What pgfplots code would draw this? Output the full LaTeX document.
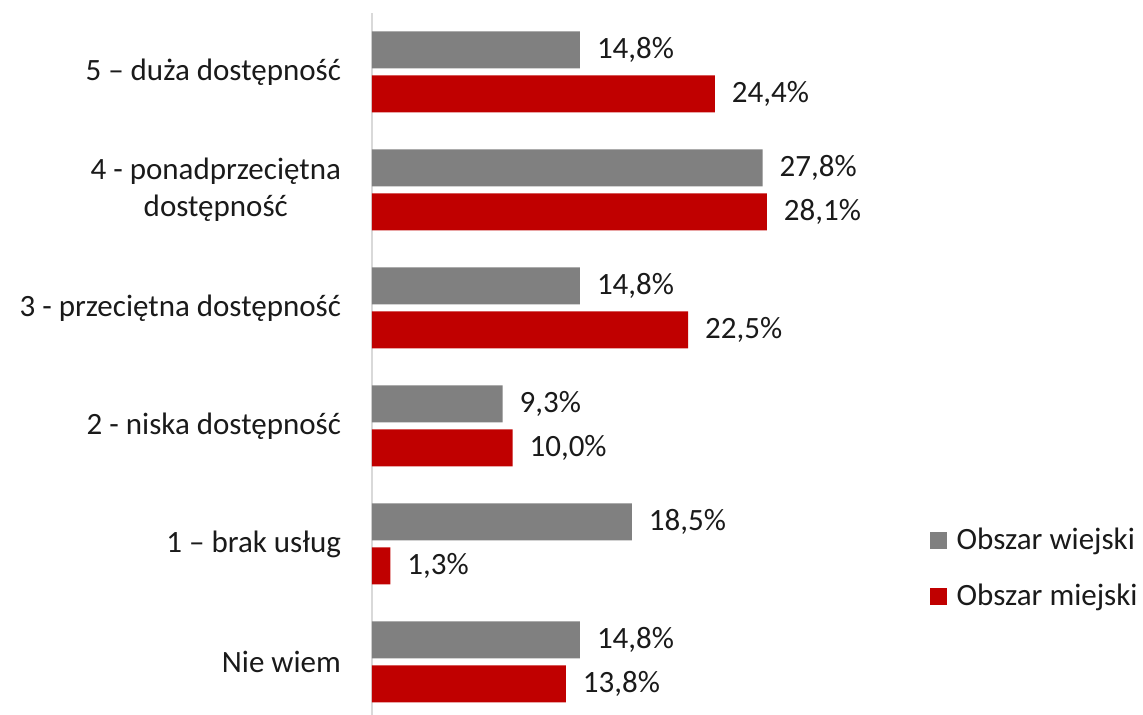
\documentclass[border=0pt]{standalone}
\usepackage{pgfplots}
\pgfplotsset{compat=1.18}
\usepackage{fontspec}
\setmainfont{Carlito}
\definecolor{cgray}{HTML}{808080}
\definecolor{cred}{HTML}{C00000}
\definecolor{ctext}{HTML}{1A1A1A}
\definecolor{caxis}{HTML}{D9D9D9}
\begin{document}
\begin{tikzpicture}
\begin{axis}[
  name=ax,
  at={(0,0)}, anchor=south west,
  scale only axis,
  width=210.75pt, height=351pt,
  xmin=0, xmax=30,
  ymin=-0.45, ymax=5.5,
  xbar, bar width=18.5pt,
  axis x line=none,
  axis y line=left,
  y axis line style={-, draw=caxis, line width=0.8pt},
  ytick={0,1,2,3,4,5},
  yticklabels={Nie wiem, 1 – brak usług, 2 - niska dostępność, 3 - przeciętna dostępność, {4 - ponadprzeciętna\\dostępność}, 5 – duża dostępność},
  ytick style={draw=none},
  major tick length=0pt,
  yticklabel style={align=center, font=\fontsize{15.5}{18.5}\selectfont, text=ctext, xshift=-12pt},
  /pgf/number format/assume math mode=true,
  point meta=x,
  nodes near coords={\pgfmathprintnumber[fixed,fixed zerofill,precision=1,use comma,assume math mode=true]{\pgfplotspointmeta}\%},
  nodes near coords style={font=\fontsize{15.5}{18.5}\selectfont, text=ctext, xshift=5pt},
  legend style={draw=none, at={(1.322,0.209)}, anchor=west, font=\fontsize{15.5}{18.5}\selectfont, text=ctext, row sep=12pt, column sep=3pt, inner sep=0pt},
  legend cell align=left,
  legend image code/.code={\fill[#1] (0pt,-4.25pt) rectangle (8.5pt,4.25pt);},
]
\addplot[fill=cgray, draw=none, bar shift=11pt] coordinates {(14.8,0) (18.5,1) (9.3,2) (14.8,3) (27.8,4) (14.8,5)};
\addlegendentry{Obszar wiejski}
\addplot[fill=cred, draw=none, bar shift=-11pt] coordinates {(13.8,0) (1.3,1) (10.0,2) (22.5,3) (28.1,4) (24.4,5)};
\addlegendentry{Obszar miejski}
\end{axis}
\pgfresetboundingbox
\path[use as bounding box] ([xshift=-186pt]ax.south west) rectangle ([xshift=385.5pt,yshift=357.5pt]ax.south west);
\end{tikzpicture}
\end{document}
